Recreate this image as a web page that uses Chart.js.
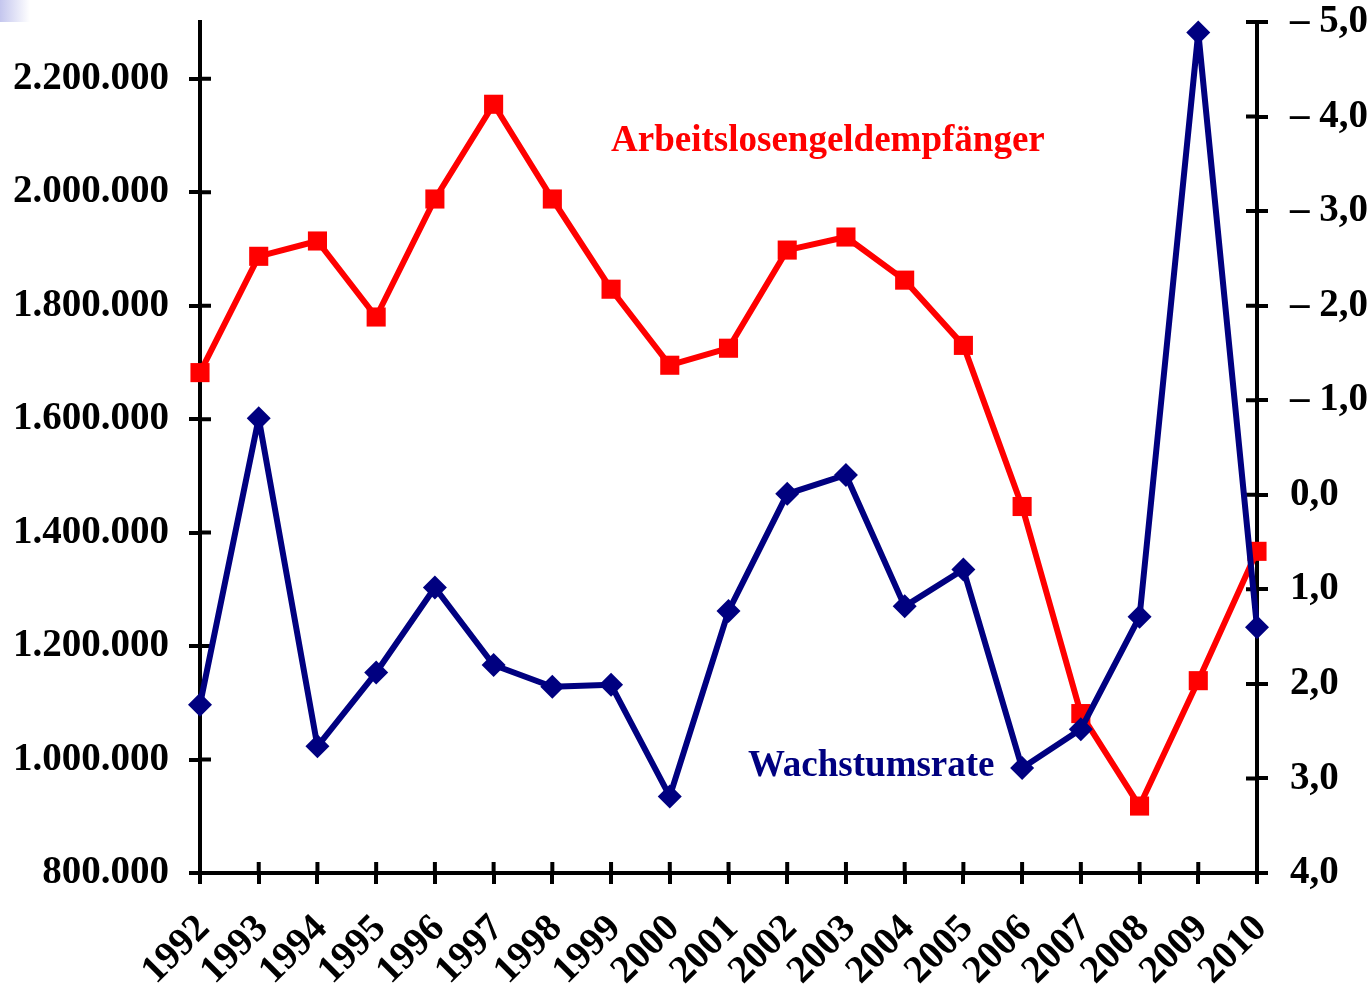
<!DOCTYPE html>
<html>
<head>
<meta charset="utf-8">
<script src="https://cdn.jsdelivr.net/npm/chart.js@4"></script>
<style>
  body { margin: 0; background: #fff; overflow: hidden; }
  #wrap { position: relative; width: 1371px; height: 984px; }
  #corner { position: absolute; left: 0; top: 0; width: 30px; height: 22px;
    background: linear-gradient(to right, #c4c6ee, #ffffff); }
</style>
</head>
<body>
<div id="wrap">
  <canvas id="myChart"></canvas>
  <div id="corner"></div>
</div>
<script>
// Daten
const years = ["1992", "1993", "1994", "1995", "1996", "1997", "1998", "1999", "2000",
  "2001", "2002", "2003", "2004", "2005", "2006", "2007", "2008", "2009", "2010"];
const empfaenger = [1682000, 1887000, 1914000, 1780000, 1988000, 2155000, 1988000, 1829000, 1695000,
  1725000, 1898000, 1921000, 1845000, 1730000, 1446000, 1081000, 918000, 1139000, 1367000];
const wachstum = [2.22, -0.81, 2.66, 1.88, 0.98, 1.80, 2.03, 2.01, 3.19,
  1.23, -0.01, -0.21, 1.18, 0.79, 2.89, 2.48, 1.29, -4.89, 1.40];
const leftTicks = [800000, 1000000, 1200000, 1400000, 1600000, 1800000, 2000000, 2200000];
const rightTicks = [-5, -4, -3, -2, -1, 0, 1, 2, 3, 4];

const RED = "#ff0000";
const NAVY = "#000080";
const SERIF = "'Liberation Serif', 'Times New Roman', serif";
const FONT = { family: SERIF, size: 39, weight: "bold" };

// labels inside the plot, placed through the scales
const notes = [
  { text: "Arbeitslosengeldempfänger", color: RED, at: 7, axis: "y", value: 2072000 },
  { text: "Wachstumsrate", color: NAVY, at: 9.33, axis: "y1", value: 2.97 }
];

function dots(v) {
  return String(v).replace(/\B(?=(\d{3})+(?!\d))/g, ".");
}

function komma(v) {
  let s = Math.abs(v).toFixed(1).replace(".", ",");
  return v < 0 ? "\u2013 " + s : s;
}

function noPad(s) {
  s.paddingTop = 0;
  s.paddingBottom = 0;
  s.paddingLeft = 0;
  s.paddingRight = 0;
}

const extras = {
  id: "extras",
  beforeDatasetsDraw(chart) {
    // inner half of the crossing tick marks
    const ctx = chart.ctx;
    const a = chart.chartArea;
    const len = 11;
    ctx.save();
    ctx.strokeStyle = "#000";
    ctx.lineWidth = 4;
    ctx.beginPath();
    const x = chart.scales.x;
    x.ticks.forEach((t, i) => {
      const p = x.getPixelForTick(i);
      ctx.moveTo(p, a.bottom);
      ctx.lineTo(p, a.bottom - len);
    });
    const y = chart.scales.y;
    y.ticks.forEach((t, i) => {
      const p = y.getPixelForTick(i);
      ctx.moveTo(a.left, p);
      ctx.lineTo(a.left + len, p);
    });
    const y1 = chart.scales.y1;
    y1.ticks.forEach((t, i) => {
      const p = y1.getPixelForTick(i);
      ctx.moveTo(a.right, p);
      ctx.lineTo(a.right - len, p);
    });
    ctx.stroke();
    ctx.restore();
  },
  afterDraw(chart) {
    const ctx = chart.ctx;
    ctx.save();
    ctx.font = "bold 37px " + SERIF;
    ctx.textAlign = "left";
    ctx.textBaseline = "alphabetic";
    notes.forEach(n => {
      ctx.fillStyle = n.color;
      ctx.fillText(n.text, chart.scales.x.getPixelForValue(n.at), chart.scales[n.axis].getPixelForValue(n.value));
    });
    ctx.restore();
  }
};

let ctx = document.getElementById("myChart").getContext("2d");
let myChart = new Chart(ctx, {
  type: "line",
  data: {
    labels: years,
    datasets: [{
      label: "Wachstumsrate",
      data: wachstum,
      yAxisID: "y1",
      borderColor: NAVY,
      backgroundColor: NAVY,
      borderWidth: 6,
      borderJoinStyle: "round",
      pointStyle: "rectRot",
      pointRadius: 12,
      pointHoverRadius: 12,
      pointBorderWidth: 0,
      pointBackgroundColor: NAVY,
      tension: 0,
      clip: false,
      order: 0
    }, {
      label: "Arbeitslosengeldempfänger",
      data: empfaenger,
      yAxisID: "y",
      borderColor: RED,
      backgroundColor: RED,
      borderWidth: 6,
      borderJoinStyle: "round",
      pointStyle: "rect",
      pointRadius: 13.5,
      pointHoverRadius: 13.5,
      pointBorderWidth: 0,
      pointBackgroundColor: RED,
      tension: 0,
      clip: false,
      order: 1
    }]
  },
  options: {
    responsive: true,
    maintainAspectRatio: false,
    animation: false,
    layout: { padding: { top: 22, left: 0, right: 0, bottom: 0 } },
    plugins: {
      legend: { display: false },
      title: { display: false },
      tooltip: { enabled: false }
    },
    scales: {
      x: {
        offset: false,
        afterFit: s => { s.height = 111; noPad(s); },
        border: { display: true, color: "#000", width: 4 },
        grid: { drawOnChartArea: false, drawTicks: true, tickLength: 11, color: "#000", lineWidth: 4 },
        ticks: { color: "#000", font: FONT, autoSkip: false, maxRotation: 45, minRotation: 45, padding: 22, labelOffset: 4 }
      },
      y: {
        position: "left",
        min: 800000,
        max: 2300000,
        afterBuildTicks: s => { s.ticks = leftTicks.map(v => ({ value: v })); },
        afterFit: s => { s.width = 200; noPad(s); },
        border: { display: true, color: "#000", width: 4 },
        grid: { drawOnChartArea: false, drawTicks: true, tickLength: 11, color: "#000", lineWidth: 4 },
        ticks: { color: "#000", font: FONT, padding: 20, callback: v => dots(v) }
      },
      y1: {
        position: "right",
        reverse: true,
        min: -5,
        max: 4,
        afterBuildTicks: s => { s.ticks = rightTicks.map(v => ({ value: v })); },
        afterFit: s => { s.width = 114; noPad(s); },
        border: { display: true, color: "#000", width: 4 },
        grid: { drawOnChartArea: false, drawTicks: true, tickLength: 11, color: "#000", lineWidth: 4 },
        ticks: { color: "#000", font: FONT, padding: 22, callback: v => komma(v) }
      }
    }
  },
  plugins: [extras]
});
</script>
</body>
</html>
